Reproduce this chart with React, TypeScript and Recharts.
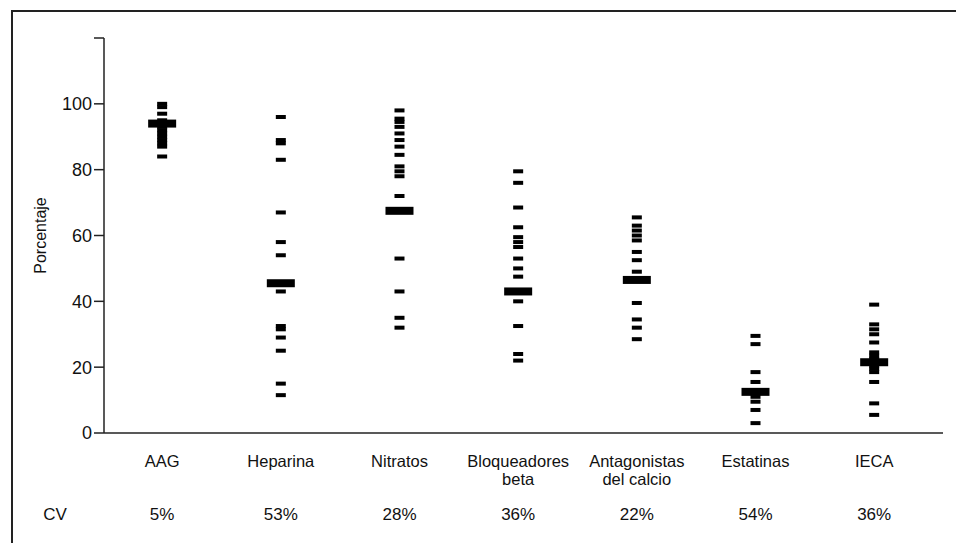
import React from 'react';
import {
    ScatterChart,
    Scatter,
    XAxis,
    YAxis,
} from 'recharts';

const categories = [
    ['AAG'],
    ['Heparina'],
    ['Nitratos'],
    ['Bloqueadores', 'beta'],
    ['Antagonistas', 'del calcio'],
    ['Estatinas'],
    ['IECA'],
];
const cvLabels = ['5%', '53%', '28%', '36%', '22%', '54%', '36%'];

const aag = [100, 99, 97, 95, 93, 92, 91, 90, 89, 88, 87, 84];
const heparina = [96, 89, 88, 83, 67, 58, 54, 43, 32.5, 31.5, 29, 25, 15, 11.5];
const nitratos = [98, 95.5, 94.5, 93, 91, 89, 87, 84.5, 81, 79.5, 78, 72, 53, 43, 35, 32];
const bloqueadores = [79.5, 76, 68.5, 62.5, 59.5, 58, 56.5, 53, 50, 47.5, 40, 32.5, 24, 22];
const antagonistas = [65.5, 63, 61.5, 60, 58.5, 55, 52.5, 49, 39.5, 34.5, 32, 28.5];
const estatinas = [29.5, 27, 18.5, 15.5, 11, 9.5, 7, 3];
const ieca = [39, 33, 31.5, 30, 27.5, 24.5, 23.5, 22.5, 20.5, 19.5, 18.5, 15.5, 9, 5.5];
const medians = [94, 45.5, 67.5, 43, 46.5, 12.5, 21.5];

const yTicks = [0, 20, 40, 60, 80, 100, 120];

const groups = [aag, heparina, nitratos, bloqueadores, antagonistas, estatinas, ieca];
const dashData = groups.flatMap((vals, i) => vals.map((v) => ({ x: i, y: v })));
const medianData = medians.map((v, i) => ({ x: i, y: v }));

const FONT = '"Liberation Sans", Arial, sans-serif';

const Dash = (props: any) => (
    <rect x={props.cx - 5} y={props.cy - 2} width={10} height={4} fill="#000" />
);
const MedianBar = (props: any) => (
    <rect x={props.cx - 14} y={props.cy - 4} width={28} height={8} fill="#000" />
);

const CategoryTick = (props: any) => {
    const { x, y, payload } = props;
    const i = payload.value;
    const lines = categories[i] || [];
    return (
        <g>
            {lines.map((line, k) => (
                <text
                    key={k}
                    x={x}
                    y={y + 26 + k * 18}
                    textAnchor="middle"
                    fontSize={16.5}
                    fontFamily={FONT}
                    fill="#111"
                >
                    {line}
                </text>
            ))}
            <text x={x} y={y + 79} textAnchor="middle" fontSize={17} fontFamily={FONT} fill="#111">
                {cvLabels[i]}
            </text>
            {i === 0 && (
                <text x={55} y={y + 79} textAnchor="middle" fontSize={17} fontFamily={FONT} fill="#111">
                    CV
                </text>
            )}
        </g>
    );
};

const App = () => {
    return (
        <div style={{ position: 'absolute', left: 0, top: 0, width: 956, height: 543, background: '#fff', overflow: 'hidden' }}>
            <div style={{ position: 'absolute', left: 0, top: 0 }}>
                <ScatterChart
                    width={956}
                    height={543}
                    margin={{ top: 38, right: 13, left: 0, bottom: 0 }}
                >
                    <XAxis
                        xAxisId="bottom"
                        type="number"
                        dataKey="x"
                        domain={[-0.49, 6.58]}
                        allowDataOverflow
                        ticks={[0, 1, 2, 3, 4, 5, 6]}
                        tick={<CategoryTick />}
                        tickLine={false}
                        height={110}
                        stroke="#222"
                        strokeWidth={1.5}
                    />
                    <XAxis
                        xAxisId="top"
                        orientation="top"
                        type="number"
                        dataKey="x"
                        domain={[-0.49, 6.58]}
                        allowDataOverflow
                        tick={false}
                        tickLine={false}
                        height={0}
                        stroke="#444"
                        strokeWidth={2}
                    />
                    <YAxis
                        yAxisId="left"
                        type="number"
                        dataKey="y"
                        domain={[0, 120]}
                        ticks={yTicks}
                        width={104}
                        tickSize={10}
                        tickFormatter={(v) => (v === 120 ? '' : String(v))}
                        tick={{ fontSize: 18, fontFamily: FONT, fill: '#111' }}
                        stroke="#222"
                        strokeWidth={1.5}
                        label={{
                            value: 'Porcentaje',
                            angle: -90,
                            position: 'insideLeft',
                            offset: 40,
                            style: { fontSize: 16, fontFamily: FONT, fill: '#111', textAnchor: 'middle' },
                        }}
                    />
                    <YAxis
                        yAxisId="right"
                        orientation="right"
                        type="number"
                        dataKey="y"
                        domain={[0, 120]}
                        tick={false}
                        tickLine={false}
                        width={0}
                        stroke="#222"
                        strokeWidth={1.5}
                    />
                    <Scatter
                        xAxisId="bottom"
                        yAxisId="left"
                        data={dashData}
                        shape={Dash}
                        isAnimationActive={false}
                    />
                    <Scatter
                        xAxisId="bottom"
                        yAxisId="left"
                        data={medianData}
                        shape={MedianBar}
                        isAnimationActive={false}
                    />
                </ScatterChart>
            </div>
            <div
                style={{
                    position: 'absolute',
                    left: 11,
                    top: 10,
                    width: 960,
                    height: 560,
                    borderLeft: '2px solid #222',
                    borderTop: '2px solid #222',
                    zIndex: 2,
                    pointerEvents: 'none',
                }}
            />
        </div>
    );
};

export default App;
